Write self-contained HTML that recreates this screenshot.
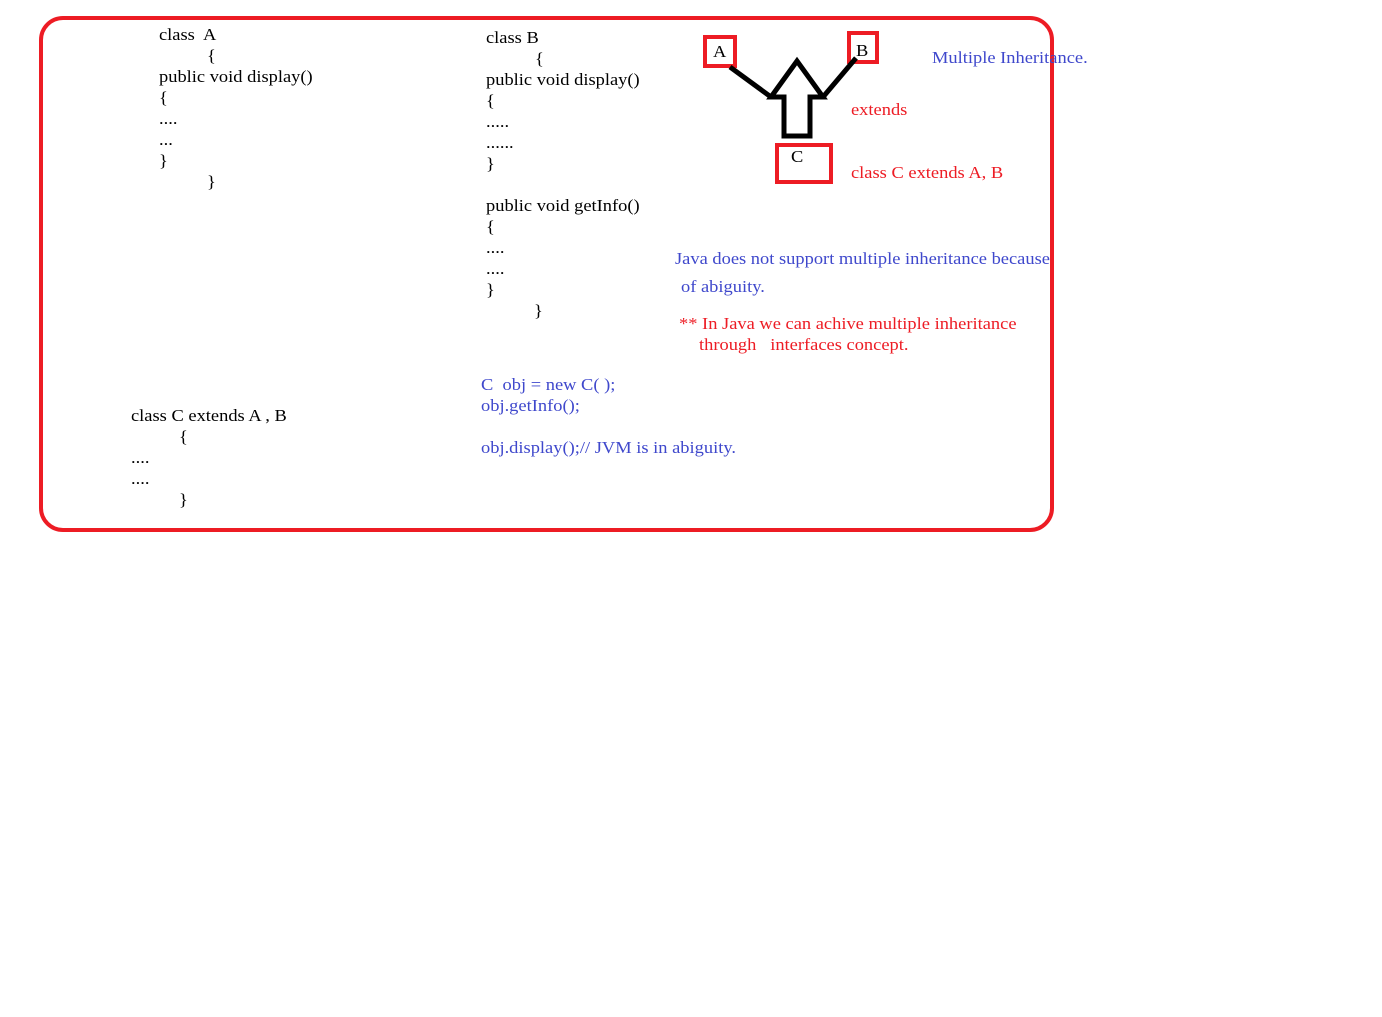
<!DOCTYPE html>
<html><head><meta charset="utf-8"><style>
html,body{margin:0;padding:0;background:#fff;width:1382px;height:1017px;overflow:hidden;position:relative}
.t{position:absolute;font-family:"Liberation Serif",serif;font-size:17px;line-height:20px;white-space:pre;color:#000;transform:scaleX(1.085);transform-origin:0 0}
.b{color:#3f48cc}.r{color:#ed1c24}
</style></head><body>
<svg width="1382" height="1017" style="position:absolute;left:0;top:0">
<rect x="41" y="18" width="1011" height="512" rx="22" ry="22" fill="none" stroke="#ed1c24" stroke-width="4"/>
<rect x="705" y="37" width="30" height="29" fill="none" stroke="#ed1c24" stroke-width="4"/>
<rect x="849" y="33" width="28" height="29" fill="none" stroke="#ed1c24" stroke-width="4"/>
<rect x="777" y="145" width="54" height="37" fill="none" stroke="#ed1c24" stroke-width="4"/>
<polygon points="771,97 797,61 823,97 810,97 810,136 784,136 784,97" fill="none" stroke="#000" stroke-width="5" stroke-linejoin="miter"/>
<line x1="730" y1="67" x2="771" y2="97" stroke="#000" stroke-width="5"/>
<line x1="856" y1="58" x2="823" y2="97" stroke="#000" stroke-width="5"/>
</svg>
<div class="t" style="left:159px;top:25px">class  A</div>
<div class="t" style="left:207px;top:46px">{</div>
<div class="t" style="left:159px;top:67px">public void display()</div>
<div class="t" style="left:159px;top:88px">{</div>
<div class="t" style="left:159px;top:109px">....</div>
<div class="t" style="left:159px;top:130px">...</div>
<div class="t" style="left:159px;top:151px">}</div>
<div class="t" style="left:207px;top:172px">}</div>

<div class="t" style="left:486px;top:28px">class B</div>
<div class="t" style="left:535px;top:49px">{</div>
<div class="t" style="left:486px;top:70px">public void display()</div>
<div class="t" style="left:486px;top:91px">{</div>
<div class="t" style="left:486px;top:112px">.....</div>
<div class="t" style="left:486px;top:133px">......</div>
<div class="t" style="left:486px;top:154px">}</div>
<div class="t" style="left:486px;top:196px">public void getInfo()</div>
<div class="t" style="left:486px;top:217px">{</div>
<div class="t" style="left:486px;top:238px">....</div>
<div class="t" style="left:486px;top:259px">....</div>
<div class="t" style="left:486px;top:280px">}</div>
<div class="t" style="left:534px;top:301px">}</div>

<div class="t" style="left:131px;top:406px">class C extends A , B</div>
<div class="t" style="left:179px;top:427px">{</div>
<div class="t" style="left:131px;top:448px">....</div>
<div class="t" style="left:131px;top:469px">....</div>
<div class="t" style="left:179px;top:490px">}</div>

<div class="t" style="left:713px;top:42px">A</div>
<div class="t" style="left:856px;top:41px">B</div>
<div class="t" style="left:791px;top:147px">C</div>
<div class="t b" style="left:932px;top:48px">Multiple Inheritance.</div>
<div class="t r" style="left:851px;top:100px">extends</div>
<div class="t r" style="left:851px;top:163px">class C extends A, B</div>
<div class="t b" style="left:675px;top:249px">Java does not support multiple inheritance because</div>
<div class="t b" style="left:681px;top:277px">of abiguity.</div>
<div class="t r" style="left:679px;top:314px">** In Java we can achive multiple inheritance</div>
<div class="t r" style="left:699px;top:335px">through   interfaces concept.</div>
<div class="t b" style="left:481px;top:375px">C  obj = new C( );</div>
<div class="t b" style="left:481px;top:396px">obj.getInfo();</div>
<div class="t b" style="left:481px;top:438px">obj.display();// JVM is in abiguity.</div>
</body></html>
